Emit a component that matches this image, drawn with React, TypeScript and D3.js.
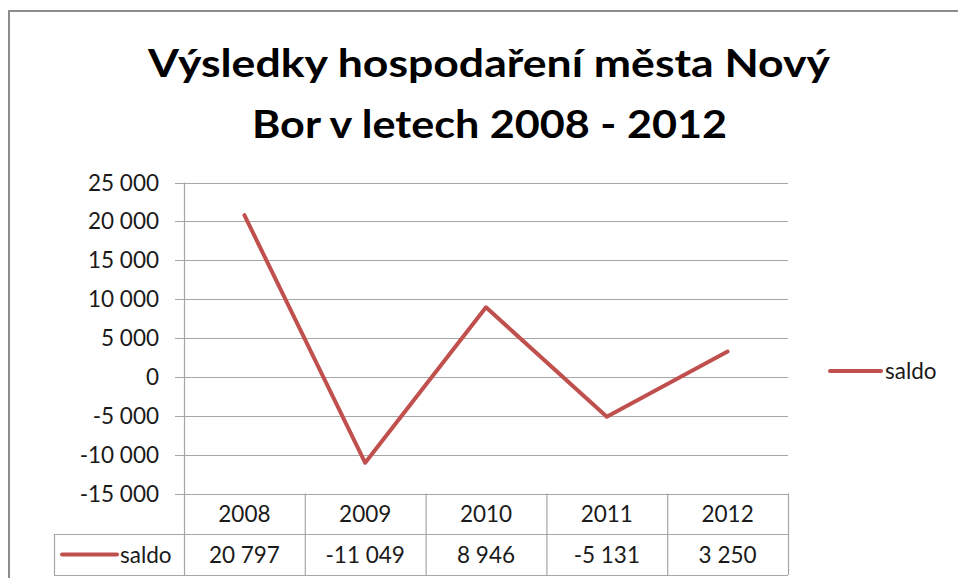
import React from "react";
import * as d3 from "d3";

const years = ["2008", "2009", "2010", "2011", "2012"];
const saldo = [20797, -11049, 8946, -5131, 3250];
const yTicks = [25000, 20000, 15000, 10000, 5000, 0, -5000, -10000, -15000];
const seriesName = "saldo";
const titleLines = ["Výsledky hospodaření města Nový", "Bor v letech 2008 - 2012"];

const locale = d3.formatLocale({ decimal: ",", thousands: " ", grouping: [3], currency: ["", " Kč"], minus: "-" });
const fmt = locale.format(",d");

export default function App() {
  const W = 958, H = 578;
  const left = 184, right = 788, top = 182.5, bottom = 493.5;
  const row1 = 534, row2 = 575;
  const y = d3.scaleLinear().domain([-15000, 25000]).range([bottom, top]);
  const x = d3.scaleBand().domain(years).range([left, right]);
  const cx = (d: string) => (x(d) as number) + x.bandwidth() / 2;
  const line = d3.line<number>().x((_, i) => cx(years[i])).y((v) => y(v));
  const color = "#C0504D";
  const grid = "#A6A6A6";
  const font = "Lato, 'Open Sans', sans-serif";
  const txt = "#1a1a1a";

  return (
    <svg width={W} height={H} style={{ position: "absolute", left: 0, top: 0, background: "#fff" }} fontFamily={font}>
      <rect x={9} y={11} width={1000} height={700} fill="#fff" stroke="#8c8c8c" strokeWidth={2} />
      <text x={489} y={77} textAnchor="middle" fontSize={39} fontWeight={700} fill="#000" textLength={682} lengthAdjust="spacingAndGlyphs">{titleLines[0]}</text>
      <text x={489.5} y={138} textAnchor="middle" fontSize={39} fontWeight={700} fill="#000" textLength={475} lengthAdjust="spacingAndGlyphs">{titleLines[1]}</text>

      {yTicks.map((t) => (
        <g key={t}>
          <line x1={175} x2={right} y1={Math.round(y(t)) + 0.5} y2={Math.round(y(t)) + 0.5} stroke={grid} strokeWidth={1.2} />
          <text x={159} y={y(t)} dy="0.36em" textAnchor="end" fontSize={22.5} fill={txt}>{fmt(t)}</text>
        </g>
      ))}
      <line x1={left + 0.5} x2={left + 0.5} y1={top} y2={row2} stroke={grid} strokeWidth={1.2} />

      {/* data table */}
      {years.map((d) => (
        <line key={"v" + d} x1={(x(d) as number) + x.bandwidth() + 0.5} x2={(x(d) as number) + x.bandwidth() + 0.5} y1={bottom} y2={row2} stroke={grid} strokeWidth={1.2} />
      ))}
      <line x1={54} x2={right} y1={row1 + 0.5} y2={row1 + 0.5} stroke={grid} strokeWidth={1.2} />
      <line x1={54} x2={right} y1={row2 + 0.5} y2={row2 + 0.5} stroke={grid} strokeWidth={1.2} />
      <line x1={54.5} x2={54.5} y1={row1} y2={row2} stroke={grid} strokeWidth={1.2} />
      {years.map((d, i) => (
        <g key={"t" + d}>
          <text x={cx(d)} y={(bottom + row1) / 2} dy="0.36em" textAnchor="middle" fontSize={22.5} fill={txt}>{d}</text>
          <text x={cx(d)} y={(row1 + row2) / 2} dy="0.36em" textAnchor="middle" fontSize={22.5} fill={txt}>{fmt(saldo[i])}</text>
        </g>
      ))}
      <line x1={62} x2={117} y1={554.5} y2={554.5} stroke={color} strokeWidth={4} strokeLinecap="round" />
      <text x={120} y={554.5} dy="0.36em" fontSize={22.5} fill={txt}>{seriesName}</text>

      <path d={line(saldo) || ""} fill="none" stroke={color} strokeWidth={4} strokeLinejoin="round" strokeLinecap="round" />

      {/* legend */}
      <line x1={830} x2={881} y1={371} y2={371} stroke={color} strokeWidth={4} strokeLinecap="round" />
      <text x={885} y={371} dy="0.36em" fontSize={22.5} fill={txt}>{seriesName}</text>
    </svg>
  );
}
